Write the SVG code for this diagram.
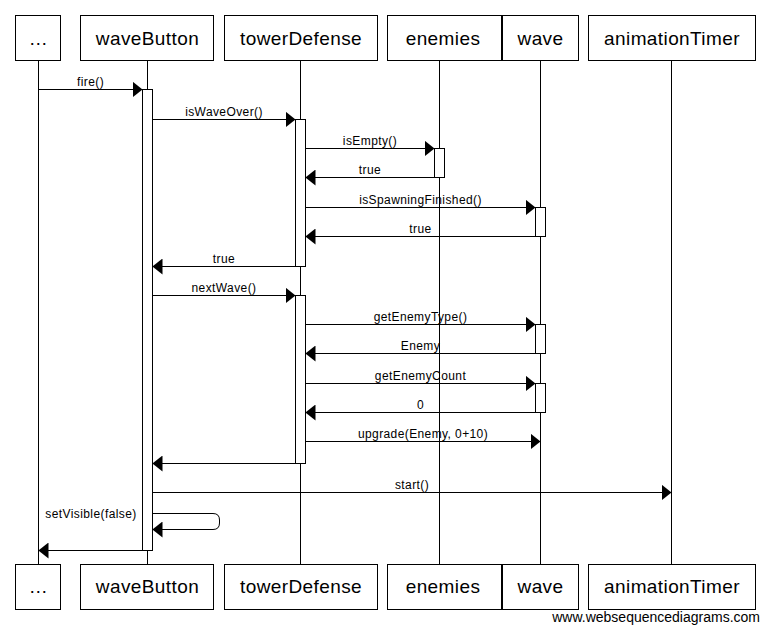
<svg xmlns="http://www.w3.org/2000/svg" width="769" height="633" viewBox="0 0 769 633">
<style>
.box{fill:#fff;stroke:#000;stroke-width:1}
.life{stroke:#000;stroke-width:1;fill:none}
.act{fill:#fff;stroke:#000;stroke-width:1}
.msg{stroke:#000;stroke-width:1;fill:none;marker-end:url(#ah)}
.hd{font-family:"Liberation Sans",Arial,sans-serif;font-size:19px;letter-spacing:0.4px;text-anchor:middle;fill:#000}
.lb{font-family:"Liberation Sans",Arial,sans-serif;font-size:12px;letter-spacing:0.4px;text-anchor:middle;fill:#000}
.wm{font-family:"Liberation Sans",Arial,sans-serif;font-size:14px;text-anchor:end;fill:#000}
</style>
<defs>
<marker id="ah" markerUnits="userSpaceOnUse" viewBox="0 0 10 16" refX="10" refY="8" markerWidth="10" markerHeight="16" orient="auto">
<path d="M0,0 L10,8 L0,16 z" fill="#000"/>
</marker>
</defs>
<rect width="769" height="633" fill="#fff"/>
<g id="lifelines">
<line class="life" x1="38.5" y1="60.5" x2="38.5" y2="564.5"/>
<line class="life" x1="147.5" y1="60.5" x2="147.5" y2="564.5"/>
<line class="life" x1="300.5" y1="60.5" x2="300.5" y2="564.5"/>
<line class="life" x1="439.5" y1="60.5" x2="439.5" y2="564.5"/>
<line class="life" x1="540.5" y1="60.5" x2="540.5" y2="564.5"/>
<line class="life" x1="671.5" y1="60.5" x2="671.5" y2="564.5"/>
</g>
<g id="node-dots">
<rect class="box" x="15.5" y="15.5" width="45" height="45"/>
<text class="hd" x="38.5" y="45">…</text>
<rect class="box" x="15.5" y="564.5" width="45" height="45"/>
<text class="hd" x="38.5" y="593">…</text>
</g>
<g id="node-waveButton">
<rect class="box" x="80.5" y="15.5" width="133" height="45"/>
<text class="hd" x="147.5" y="45">waveButton</text>
<rect class="box" x="80.5" y="564.5" width="133" height="45"/>
<text class="hd" x="147.5" y="593">waveButton</text>
<rect class="act" x="142.5" y="89.5" width="10" height="461"/>
</g>
<g id="node-towerDefense">
<rect class="box" x="224.5" y="15.5" width="153" height="45"/>
<text class="hd" x="301" y="45">towerDefense</text>
<rect class="box" x="224.5" y="564.5" width="153" height="45"/>
<text class="hd" x="301" y="593">towerDefense</text>
<rect class="act" x="295.5" y="119.5" width="10" height="147"/>
<rect class="act" x="295.5" y="295.5" width="10" height="168"/>
</g>
<g id="node-enemies">
<rect class="box" x="387.5" y="15.5" width="114" height="45"/>
<text class="hd" x="443" y="45">enemies</text>
<rect class="box" x="387.5" y="564.5" width="114" height="45"/>
<text class="hd" x="443" y="593">enemies</text>
<rect class="act" x="434.5" y="148.5" width="10" height="29"/>
</g>
<g id="node-wave">
<rect class="box" x="502.5" y="15.5" width="76" height="45"/>
<text class="hd" x="540.5" y="45">wave</text>
<rect class="box" x="502.5" y="564.5" width="76" height="45"/>
<text class="hd" x="540.5" y="593">wave</text>
<rect class="act" x="535.5" y="207.5" width="10" height="29"/>
<rect class="act" x="535.5" y="324.5" width="10" height="29"/>
<rect class="act" x="535.5" y="383.5" width="10" height="29"/>
</g>
<g id="node-animationTimer">
<rect class="box" x="588.5" y="15.5" width="167" height="45"/>
<text class="hd" x="672" y="45">animationTimer</text>
<rect class="box" x="588.5" y="564.5" width="167" height="45"/>
<text class="hd" x="672" y="593">animationTimer</text>
</g>
<g id="connectors">
<line class="msg" x1="38.5" y1="89.5" x2="142.5" y2="89.5"/>
<text class="lb" x="90.5" y="85.5">fire()</text>
<line class="msg" x1="152.5" y1="119.5" x2="295.5" y2="119.5"/>
<text class="lb" x="224" y="115.5">isWaveOver()</text>
<line class="msg" x1="305.5" y1="148.5" x2="434.5" y2="148.5"/>
<text class="lb" x="370" y="144.5">isEmpty()</text>
<line class="msg" x1="434.5" y1="177.5" x2="305.5" y2="177.5"/>
<text class="lb" x="370" y="173.5">true</text>
<line class="msg" x1="305.5" y1="207.5" x2="535.5" y2="207.5"/>
<text class="lb" x="420.5" y="203.5">isSpawningFinished()</text>
<line class="msg" x1="535.5" y1="236.5" x2="305.5" y2="236.5"/>
<text class="lb" x="420.5" y="232.5">true</text>
<line class="msg" x1="295.5" y1="266.5" x2="152.5" y2="266.5"/>
<text class="lb" x="224" y="262.5">true</text>
<line class="msg" x1="152.5" y1="295.5" x2="295.5" y2="295.5"/>
<text class="lb" x="224" y="291.5">nextWave()</text>
<line class="msg" x1="305.5" y1="324.5" x2="535.5" y2="324.5"/>
<text class="lb" x="420.5" y="320.5">getEnemyType()</text>
<line class="msg" x1="535.5" y1="353.5" x2="305.5" y2="353.5"/>
<text class="lb" x="420.5" y="349.5">Enemy</text>
<line class="msg" x1="305.5" y1="383.5" x2="535.5" y2="383.5"/>
<text class="lb" x="420.5" y="379.5">getEnemyCount</text>
<line class="msg" x1="535.5" y1="412.5" x2="305.5" y2="412.5"/>
<text class="lb" x="420.5" y="408.5">0</text>
<line class="msg" x1="305.5" y1="441.5" x2="540.5" y2="441.5"/>
<text class="lb" x="423" y="437.5">upgrade(Enemy, 0+10)</text>
<line class="msg" x1="295.5" y1="463.5" x2="152.5" y2="463.5"/>
<line class="msg" x1="152.5" y1="492.5" x2="671.5" y2="492.5"/>
<text class="lb" x="412" y="488.5">start()</text>
<path class="msg" d="M152.5,513.5 H213 Q219.5,513.5 219.5,520 V523 Q219.5,529.5 213,529.5 H152.5"/>
<text class="lb" x="91" y="517.5">setVisible(false)</text>
<line class="msg" x1="142.5" y1="550.5" x2="38.5" y2="550.5"/>
</g>
<text class="wm" x="760" y="622">www.websequencediagrams.com</text>
</svg>
